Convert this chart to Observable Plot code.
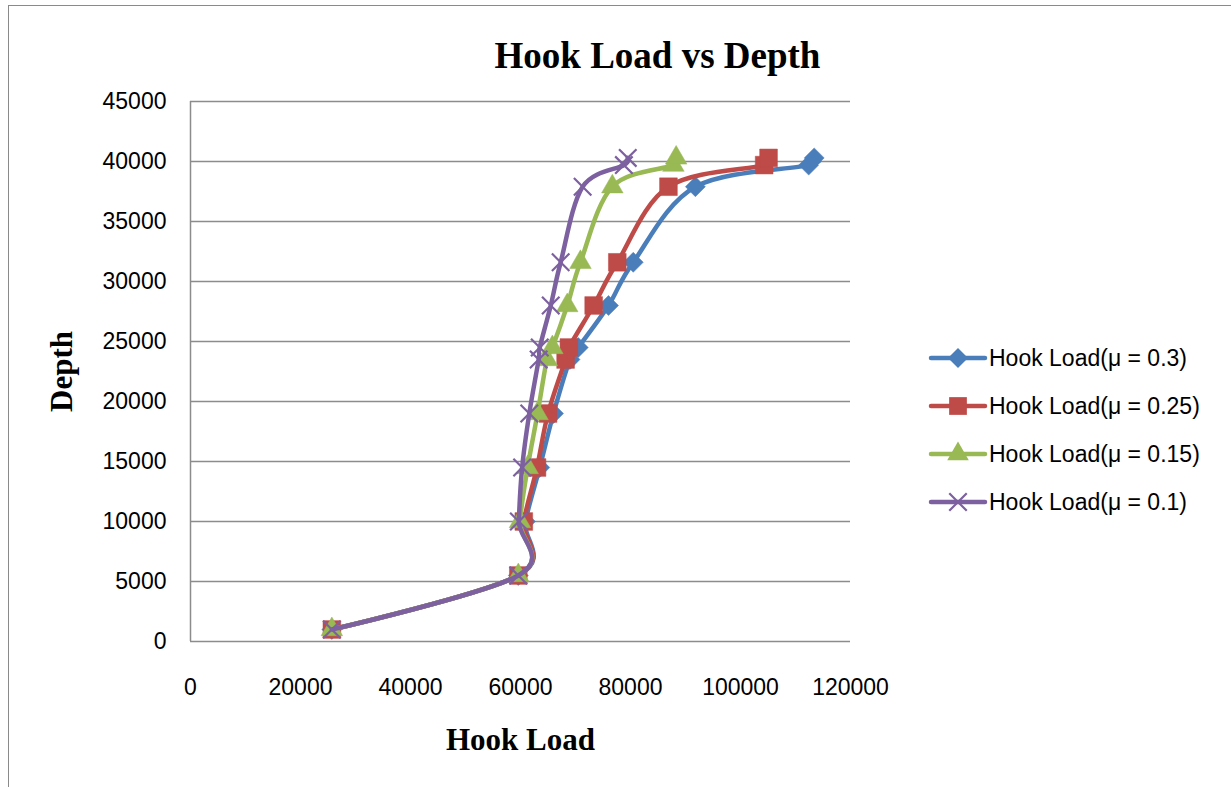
<!DOCTYPE html>
<html>
<head>
<meta charset="utf-8">
<script src="https://cdn.jsdelivr.net/npm/d3@7"></script>
<script src="https://cdn.jsdelivr.net/npm/@observablehq/plot@0.6"></script>
<style>
  html, body { margin: 0; padding: 0; background: #fff; }
  #wrap { position: relative; width: 1231px; height: 787px; overflow: hidden; }
  #frame { position: absolute; left: 8px; top: 5px; right: -2px; bottom: -2px; border-top: 1.5px solid #8a8a8a; border-left: 1.5px solid #8a8a8a; pointer-events: none; }
  #chart { position: absolute; left: 0; top: 0; }
  #legend { position: absolute; left: 928px; top: 334px; font-family: "Liberation Sans", Arial, sans-serif; font-size: 23px; color: #000; }
  .item { display: flex; align-items: center; height: 48px; }
  .item svg { display: block; margin-right: 1px; }
</style>
</head>
<body>
<div id="wrap">
  <div id="chart"></div>
  <div id="legend"></div>
  <div id="frame"></div>
</div>
<script>
const depths = [1000, 5500, 10000, 14500, 19000, 23500, 24500, 28000, 31600, 37900, 39700, 40300];
const seriesNames = ["Hook Load(μ = 0.3)", "Hook Load(μ = 0.25)", "Hook Load(μ = 0.15)", "Hook Load(μ = 0.1)"];
const load03  = [25700, 59600, 60900, 63500, 66000, 69000, 70500, 76000, 80500, 91800, 112400, 113400];
const load025 = [25700, 59600, 60600, 63000, 65000, 68200, 68800, 73300, 77600, 86900, 104300, 105100];
const load015 = [25700, 59600, 59900, 61300, 63100, 64800, 65800, 68500, 70900, 76700, 87800, 88300];
const load01  = [25700, 59600, 59700, 60300, 61600, 63300, 63500, 65500, 67300, 71300, 78800, 79500];
const xTicks = [0, 20000, 40000, 60000, 80000, 100000, 120000];
const yTicks = [0, 5000, 10000, 15000, 20000, 25000, 30000, 35000, 40000, 45000];
const colors = ["#4A7EBB", "#BE4B48", "#98B954", "#7D60A0"];

const allLoads = [load03, load025, load015, load01];
const symbols = [d3.symbolDiamond2, "square", "triangle", "times"];
const sizes = [9, 10, 8, 8];

const series = allLoads.map((loads, i) => depths.map((d, j) => ({name: seriesNames[i], load: loads[j], depth: d})));

const marks = [
  Plot.gridY(yTicks, {stroke: "#8c8c8c", strokeOpacity: 1, strokeWidth: 1.5}),
  Plot.ruleX([0], {stroke: "#8c8c8c", strokeWidth: 1.5}),
  Plot.axisY(yTicks, {tickSize: 0, tickPadding: 24, tickFormat: d => String(d), fontSize: 23, label: null}),
  Plot.axisX(xTicks, {tickSize: 0, tickPadding: 37, tickFormat: d => String(d), fontSize: 23, label: null})
];
series.forEach((data, i) => {
  marks.push(Plot.line(data, {x: "load", y: "depth", stroke: colors[i], strokeWidth: 4.5, curve: "cardinal"}));
  const isStroke = symbols[i] === "times";
  marks.push(Plot.dot(data, {
    x: "load", y: "depth", symbol: symbols[i], r: sizes[i],
    fill: isStroke ? "none" : colors[i],
    stroke: colors[i], strokeWidth: isStroke ? 2.2 : 0.5
  }));
});
marks.push(
  Plot.text(["Hook Load vs Depth"], {frameAnchor: "top", textAnchor: "middle", dx: 137, dy: -60, fontSize: 37, fontWeight: "bold", fontFamily: "Liberation Serif", fill: "#000"}),
  Plot.text(["Depth"], {frameAnchor: "left", textAnchor: "middle", dx: -128, rotate: -90, fontSize: 31, fontWeight: "bold", fontFamily: "Liberation Serif", fill: "#000"}),
  Plot.text(["Hook Load"], {frameAnchor: "bottom", textAnchor: "middle", dy: 108, fontSize: 31, fontWeight: "bold", fontFamily: "Liberation Serif", fill: "#000"})
);

const chart = Plot.plot({
  width: 1231,
  height: 787,
  marginLeft: 190,
  marginRight: 381,
  marginTop: 101,
  marginBottom: 146,
  style: {fontFamily: "Liberation Sans, Arial, sans-serif", fontSize: "23px", background: "transparent", color: "#000", overflow: "visible"},
  x: {domain: [0, 120000]},
  y: {domain: [0, 45000]},
  marks
});
document.getElementById("chart").appendChild(chart);

// Legend
const legend = d3.select("#legend");
seriesNames.forEach((name, i) => {
  const item = legend.append("div").attr("class", "item");
  const svg = item.append("svg").attr("width", 60).attr("height", 30);
  svg.append("line").attr("x1", 3).attr("x2", 57).attr("y1", 15).attr("y2", 15)
    .attr("stroke", colors[i]).attr("stroke-width", 4.5).attr("stroke-linecap", "round");
  const sym = symbols[i] === "times" ? d3.symbolTimes : symbols[i] === "square" ? d3.symbolSquare : symbols[i] === "triangle" ? d3.symbolTriangle : d3.symbolDiamond2;
  const area = Math.PI * sizes[i] * sizes[i];
  const path = svg.append("path").attr("transform", "translate(30,15)").attr("d", d3.symbol(sym, area)());
  if (symbols[i] === "times") path.attr("fill", "none").attr("stroke", colors[i]).attr("stroke-width", 2.2);
  else path.attr("fill", colors[i]);
  item.append("span").text(name);
});
</script>
</body>
</html>
